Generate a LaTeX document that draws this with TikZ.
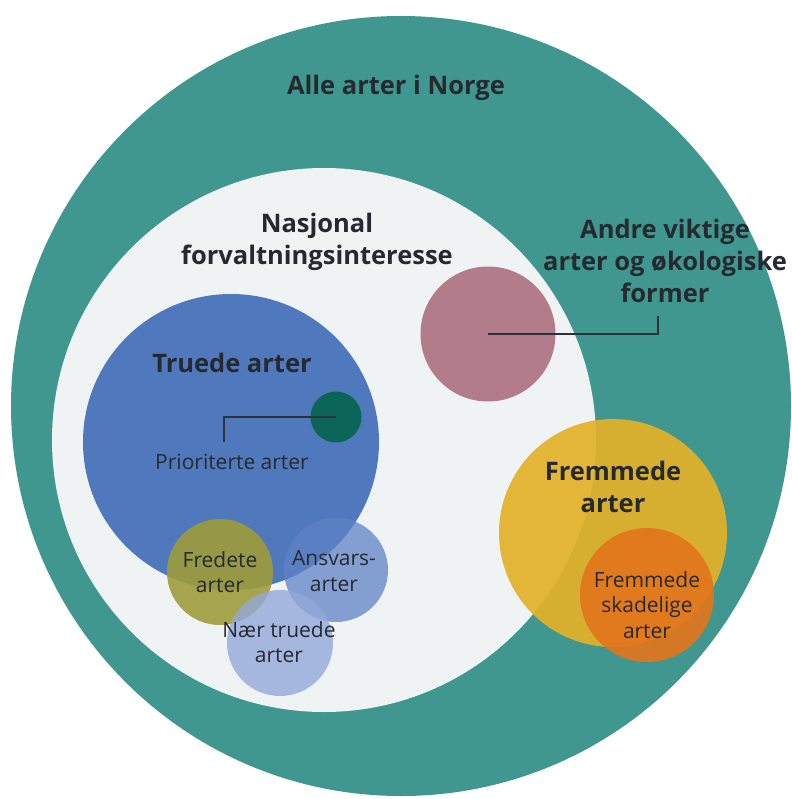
\documentclass[tikz,border=0pt]{standalone}
\usepackage{fontspec}
\setmainfont{Open Sans}
\definecolor{tealo}{HTML}{3F9790}
\definecolor{paper}{HTML}{F0F3F4}
\definecolor{bluet}{HTML}{5079BD}
\definecolor{darkt}{HTML}{0B6659}
\definecolor{pinkc}{HTML}{B27C8B}
\definecolor{olivec}{HTML}{9E9C3A}
\definecolor{ansv}{HTML}{5F82C6}
\definecolor{naer}{HTML}{94A9DA}
\definecolor{yell}{HTML}{E3B128}
\definecolor{oran}{HTML}{E2761C}
\definecolor{txt}{HTML}{262A30}
\definecolor{leadc}{HTML}{2E3236}
\begin{document}
\begin{tikzpicture}[x=1pt,y=-1pt,
  disc/.style={circle, inner sep=0pt, draw=none},
  big/.style={text=txt, align=center, font=\fontsize{25.5}{32}\selectfont\bfseries},
  sml/.style={text=txt, align=center, font=\fontsize{21}{25.5}\selectfont},
  lead/.style={draw=leadc, line width=1.3pt}]
\useasboundingbox (0,0) rectangle (791,799);
\fill[white] (0,0) rectangle (791,799);
\node[disc, fill=tealo, minimum size=780] (alle) at (401,406) {};
\node[disc, fill=paper, minimum size=544] (nasj) at (324,440) {};
\node[disc, fill=bluet, minimum size=296] (truede) at (231,442) {};
\node[disc, fill=darkt, minimum size=51] (prio) at (336,417) {};
\node[disc, fill=pinkc, minimum size=135] (andre) at (488,334) {};
\node[disc, fill=olivec, fill opacity=0.9, minimum size=106] (fredete) at (220,572) {};
\node[disc, fill=ansv, fill opacity=0.75, minimum size=104] (ansvars) at (336,570) {};
\node[disc, fill=naer, fill opacity=0.8, minimum size=106] (naert) at (280,643) {};
\node[disc, fill=yell, fill opacity=0.92, minimum size=228] (fremmede) at (613,533) {};
\node[disc, fill=oran, fill opacity=0.92, minimum size=134] (skadelige) at (647,595) {};
% leaders
\coordinate (pk) at (224,442);
\draw[lead] (prio.center) -- (prio.center -| pk) -- (pk);
\coordinate (ak) at (658,316);
\draw[lead] (andre.center) -- (andre.center -| ak) -- (ak);
% labels
\node[big] (tAlle) at (396,88) {Alle arter i Norge};
\node[big] (tNasj) at (317,242) {Nasjonal\\forvaltningsinteresse};
\node[big] (tAndre) at (665,261) {Andre viktige\\arter og økologiske\\former};
\node[big] (tTruede) at (232,363) {Truede arter};
\node[sml] (tPrio) at (232,462) {Prioriterte arter};
\node[big] (tFrem) at (613,487) {Fremmede\\arter};
\node[sml] (tSkad) at (647,605) {Fremmede\\skadelige\\arter};
\node[sml] (tFred) at (220,572) {Fredete\\arter};
\node[sml] (tAnsv) at (334,571) {Ansvars-\\arter};
\node[sml] (tNaer) at (279,642) {Nær truede\\arter};
\end{tikzpicture}
\end{document}
